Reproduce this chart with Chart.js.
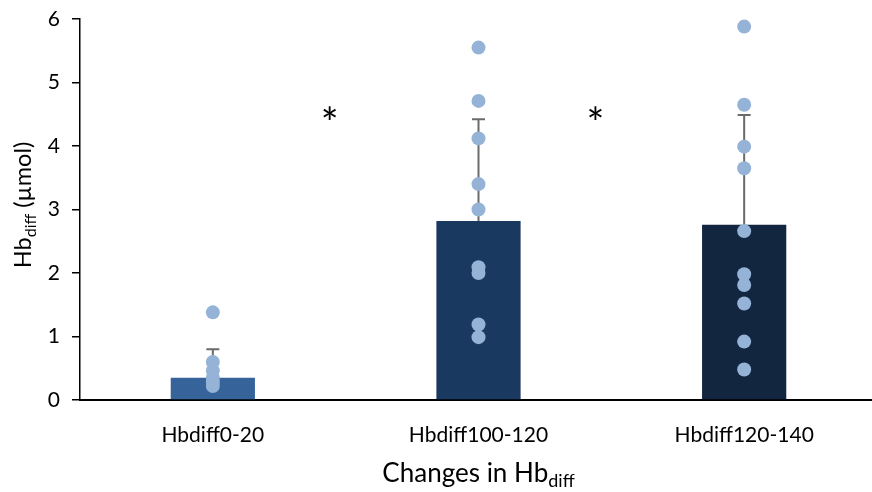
<!DOCTYPE html>
<html>
<head>
<meta charset="utf-8">
<script src="https://cdn.jsdelivr.net/npm/chart.js@4"></script>
<style>
  html, body { margin: 0; padding: 0; overflow: hidden; background: #fff; }
  #wrap { width: 872px; height: 492px; overflow: hidden; }
</style>
</head>
<body>
<div id="wrap"><canvas id="c" width="884" height="492"></canvas></div>
<script>
// Group labels, bar heights, upper error limits and individual observations
const categories = ['Hbdiff0-20', 'Hbdiff100-120', 'Hbdiff120-140'];
const meanValues = [0.35, 2.82, 2.76];
const errorUpper = [0.80, 4.42, 4.49];
const points0 = [1.38, 0.60, 0.46, 0.35, 0.28, 0.22];
const points1 = [5.55, 4.71, 4.12, 3.40, 3.00, 2.09, 2.00, 1.19, 0.99];
const points2 = [5.88, 4.65, 3.99, 3.65, 2.66, 1.98, 1.81, 1.52, 0.92, 0.48];
const yTicks = [0, 1, 2, 3, 4, 5, 6];
// significance markers placed between groups (category index, value)
const sigMarkX = [0.44, 1.44];
const sigMarkY = [4.50, 4.50];

const barColors = ['#35639A', '#1A3961', '#13263F'];
const dotColor = '#95B3D7';
const FONT = 'Lato, "Open Sans", sans-serif';

const groups = [points0, points1, points2];
const scatterData = [];
groups.forEach((g, i) => g.forEach(v => scatterData.push({ x: categories[i], y: v })));

// upward error bars drawn right after the bars, beneath the dots
const errorBars = {
  id: 'errorBars',
  afterDatasetDraw(chart, args) {
    if (args.index !== 0) return;
    const { ctx } = chart;
    const y = chart.scales.y;
    ctx.save();
    ctx.strokeStyle = '#6b6b6b';
    ctx.lineWidth = 2;
    args.meta.data.forEach((bar, i) => {
      const yTop = y.getPixelForValue(errorUpper[i]);
      ctx.beginPath();
      ctx.moveTo(bar.x, bar.y);
      ctx.lineTo(bar.x, yTop);
      ctx.moveTo(bar.x - 6.5, yTop);
      ctx.lineTo(bar.x + 6.5, yTop);
      ctx.stroke();
    });
    ctx.restore();
  }
};

// draws a run of normal and subscript text centred on the current origin
function drawSubText(ctx, parts, size, subSize, subShift) {
  let total = 0;
  parts.forEach(([t, sub]) => {
    ctx.font = (sub ? subSize : size) + 'px ' + FONT;
    total += ctx.measureText(t).width;
  });
  let x = -total / 2;
  parts.forEach(([t, sub]) => {
    ctx.font = (sub ? subSize : size) + 'px ' + FONT;
    ctx.fillText(t, x, sub ? subShift : 0);
    x += ctx.measureText(t).width;
  });
}

const annotations = {
  id: 'annotations',
  afterDraw(chart) {
    const { ctx, chartArea } = chart;
    const xs = chart.scales.x, ys = chart.scales.y;
    ctx.save();
    ctx.fillStyle = '#000';
    ctx.textAlign = 'left';
    ctx.textBaseline = 'alphabetic';

    // x axis title
    ctx.save();
    ctx.translate((chartArea.left + chartArea.right) / 2, 482);
    drawSubText(ctx, [['Changes in Hb', false], ['diff', true]], 26, 18, 5);
    ctx.restore();

    // y axis title
    ctx.save();
    ctx.translate(31, 205);
    ctx.rotate(-Math.PI / 2);
    drawSubText(ctx, [['Hb', false], ['diff', true], [' (\u00B5mol)', false]], 23.5, 16, 5);
    ctx.restore();

    // significance asterisks (glyph sits high in its em box, so shift down)
    ctx.font = '42px ' + FONT;
    ctx.textAlign = 'center';
    ctx.textBaseline = 'middle';
    sigMarkX.forEach((xv, i) => {
      ctx.fillText('*', xs.getPixelForValue(xv), ys.getPixelForValue(sigMarkY[i]) + 10);
    });
    ctx.restore();
  }
};

new Chart(document.getElementById('c'), {
  data: {
    labels: categories,
    datasets: [
      {
        type: 'bar',
        data: meanValues,
        backgroundColor: barColors,
        borderWidth: 0,
        barPercentage: 0.317,
        categoryPercentage: 1,
        order: 2
      },
      {
        type: 'line',
        data: scatterData,
        showLine: false,
        pointRadius: 7,
        pointHoverRadius: 7,
        pointBackgroundColor: dotColor,
        pointBorderWidth: 0,
        order: 1
      }
    ]
  },
  options: {
    responsive: false,
    animation: false,
    events: [],
    layout: { padding: { top: 19, right: 0, left: 0, bottom: 0 } },
    plugins: { legend: { display: false }, tooltip: { enabled: false } },
    scales: {
      x: {
        type: 'category',
        offset: true,
        grid: { display: false },
        border: { display: true, color: '#000', width: 2 },
        ticks: { color: '#000', font: { family: FONT, size: 21 }, padding: 15 },
        afterFit(s) { s.height = 92; }
      },
      y: {
        min: 0,
        max: 6,
        afterBuildTicks(s) { s.ticks = yTicks.map(v => ({ value: v })); },
        grid: { display: true, drawOnChartArea: false, drawTicks: true, tickLength: 8, color: '#000', lineWidth: 1.5 },
        border: { display: true, color: '#000', width: 1.5 },
        ticks: { color: '#000', font: { family: FONT, size: 21 }, padding: 12 },
        afterFit(s) { s.width = 80; s.paddingTop = 6; s.paddingBottom = 6; }
      }
    }
  },
  plugins: [errorBars, annotations]
});
</script>
</body>
</html>
